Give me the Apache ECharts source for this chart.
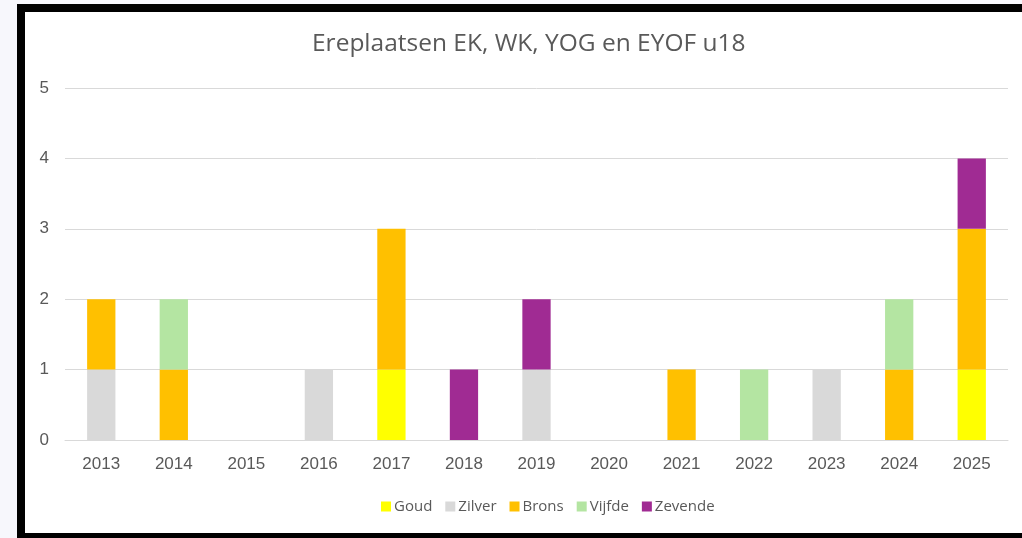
<!DOCTYPE html>
<html><head><meta charset="utf-8">
<script src="https://cdn.jsdelivr.net/npm/echarts@6/dist/echarts.min.js"></script>
<style>
html,body{margin:0;padding:0;width:1022px;height:538px;overflow:hidden;background:#f7f7fc;}
#frame{position:absolute;left:17px;top:4px;width:1100px;height:534px;background:#000;}
#inner{position:absolute;left:25px;top:12px;width:1100px;height:521px;background:#fff;}
#chart{position:absolute;left:0;top:0;width:1022px;height:538px;}
</style></head><body>
<div id="frame"></div><div id="inner"></div>
<div id="chart"></div>
<script>
const years = ['2013','2014','2015','2016','2017','2018','2019','2020','2021','2022','2023','2024','2025'];
const goud    = [0,0,0,0,1,0,0,0,0,0,0,0,1];
const zilver  = [1,0,0,1,0,0,1,0,0,0,1,0,0];
const brons   = [1,1,0,0,2,0,0,0,1,0,0,1,2];
const vijfde  = [0,1,0,0,0,0,0,0,0,1,0,1,0];
const zevende = [0,0,0,0,0,1,1,0,0,0,0,0,1];
const seriesNames = ['Goud','Zilver','Brons','Vijfde','Zevende'];
const colors = ['#FFFF00','#D9D9D9','#FFC000','#B4E5A2','#A02B93'];
const yTicks = {min:0, max:5, interval:1};

const chart = echarts.init(document.getElementById('chart'));
const dataSets = [goud, zilver, brons, vijfde, zevende];
chart.setOption({
  backgroundColor: 'transparent',
  animation: false,
  color: colors,
  title: {
    text: 'Ereplaatsen EK, WK, YOG en EYOF u18',
    left: 307, top: 27,
    textStyle: {fontFamily: 'Open Sans', fontSize: 24.5, fontWeight: 'normal', color: '#595959'}
  },
  legend: {
    top: 494, left: 376,
    itemWidth: 10, itemHeight: 10, itemGap: 13,
    icon: 'rect',
    textStyle: {fontFamily: 'Open Sans', fontSize: 15, color: '#595959', padding:[0,0,0,-2]},
    data: seriesNames
  },
  grid: {left: 65, right: 14, top: 88, bottom: 98},
  xAxis: {
    type: 'category', data: years,
    axisLine: {lineStyle: {color: '#D9D9D9', width: 1}},
    axisTick: {show: false},
    axisLabel: {color: '#595959', fontFamily: 'Liberation Sans', fontSize: 17, margin: 16}
  },
  yAxis: {
    type: 'value', min: yTicks.min, max: yTicks.max, interval: yTicks.interval,
    axisLine: {show: false}, axisTick: {show: false},
    splitLine: {lineStyle: {color: '#D9D9D9', width: 1}},
    axisLabel: {color: '#595959', fontFamily: 'Liberation Sans', fontSize: 17, margin: 16}
  },
  series: seriesNames.map((n, i) => ({
    name: n, type: 'bar', stack: 'total', barWidth: '39%',
    data: dataSets[i],
    itemStyle: {color: colors[i]}
  }))
});
</script></body></html>
